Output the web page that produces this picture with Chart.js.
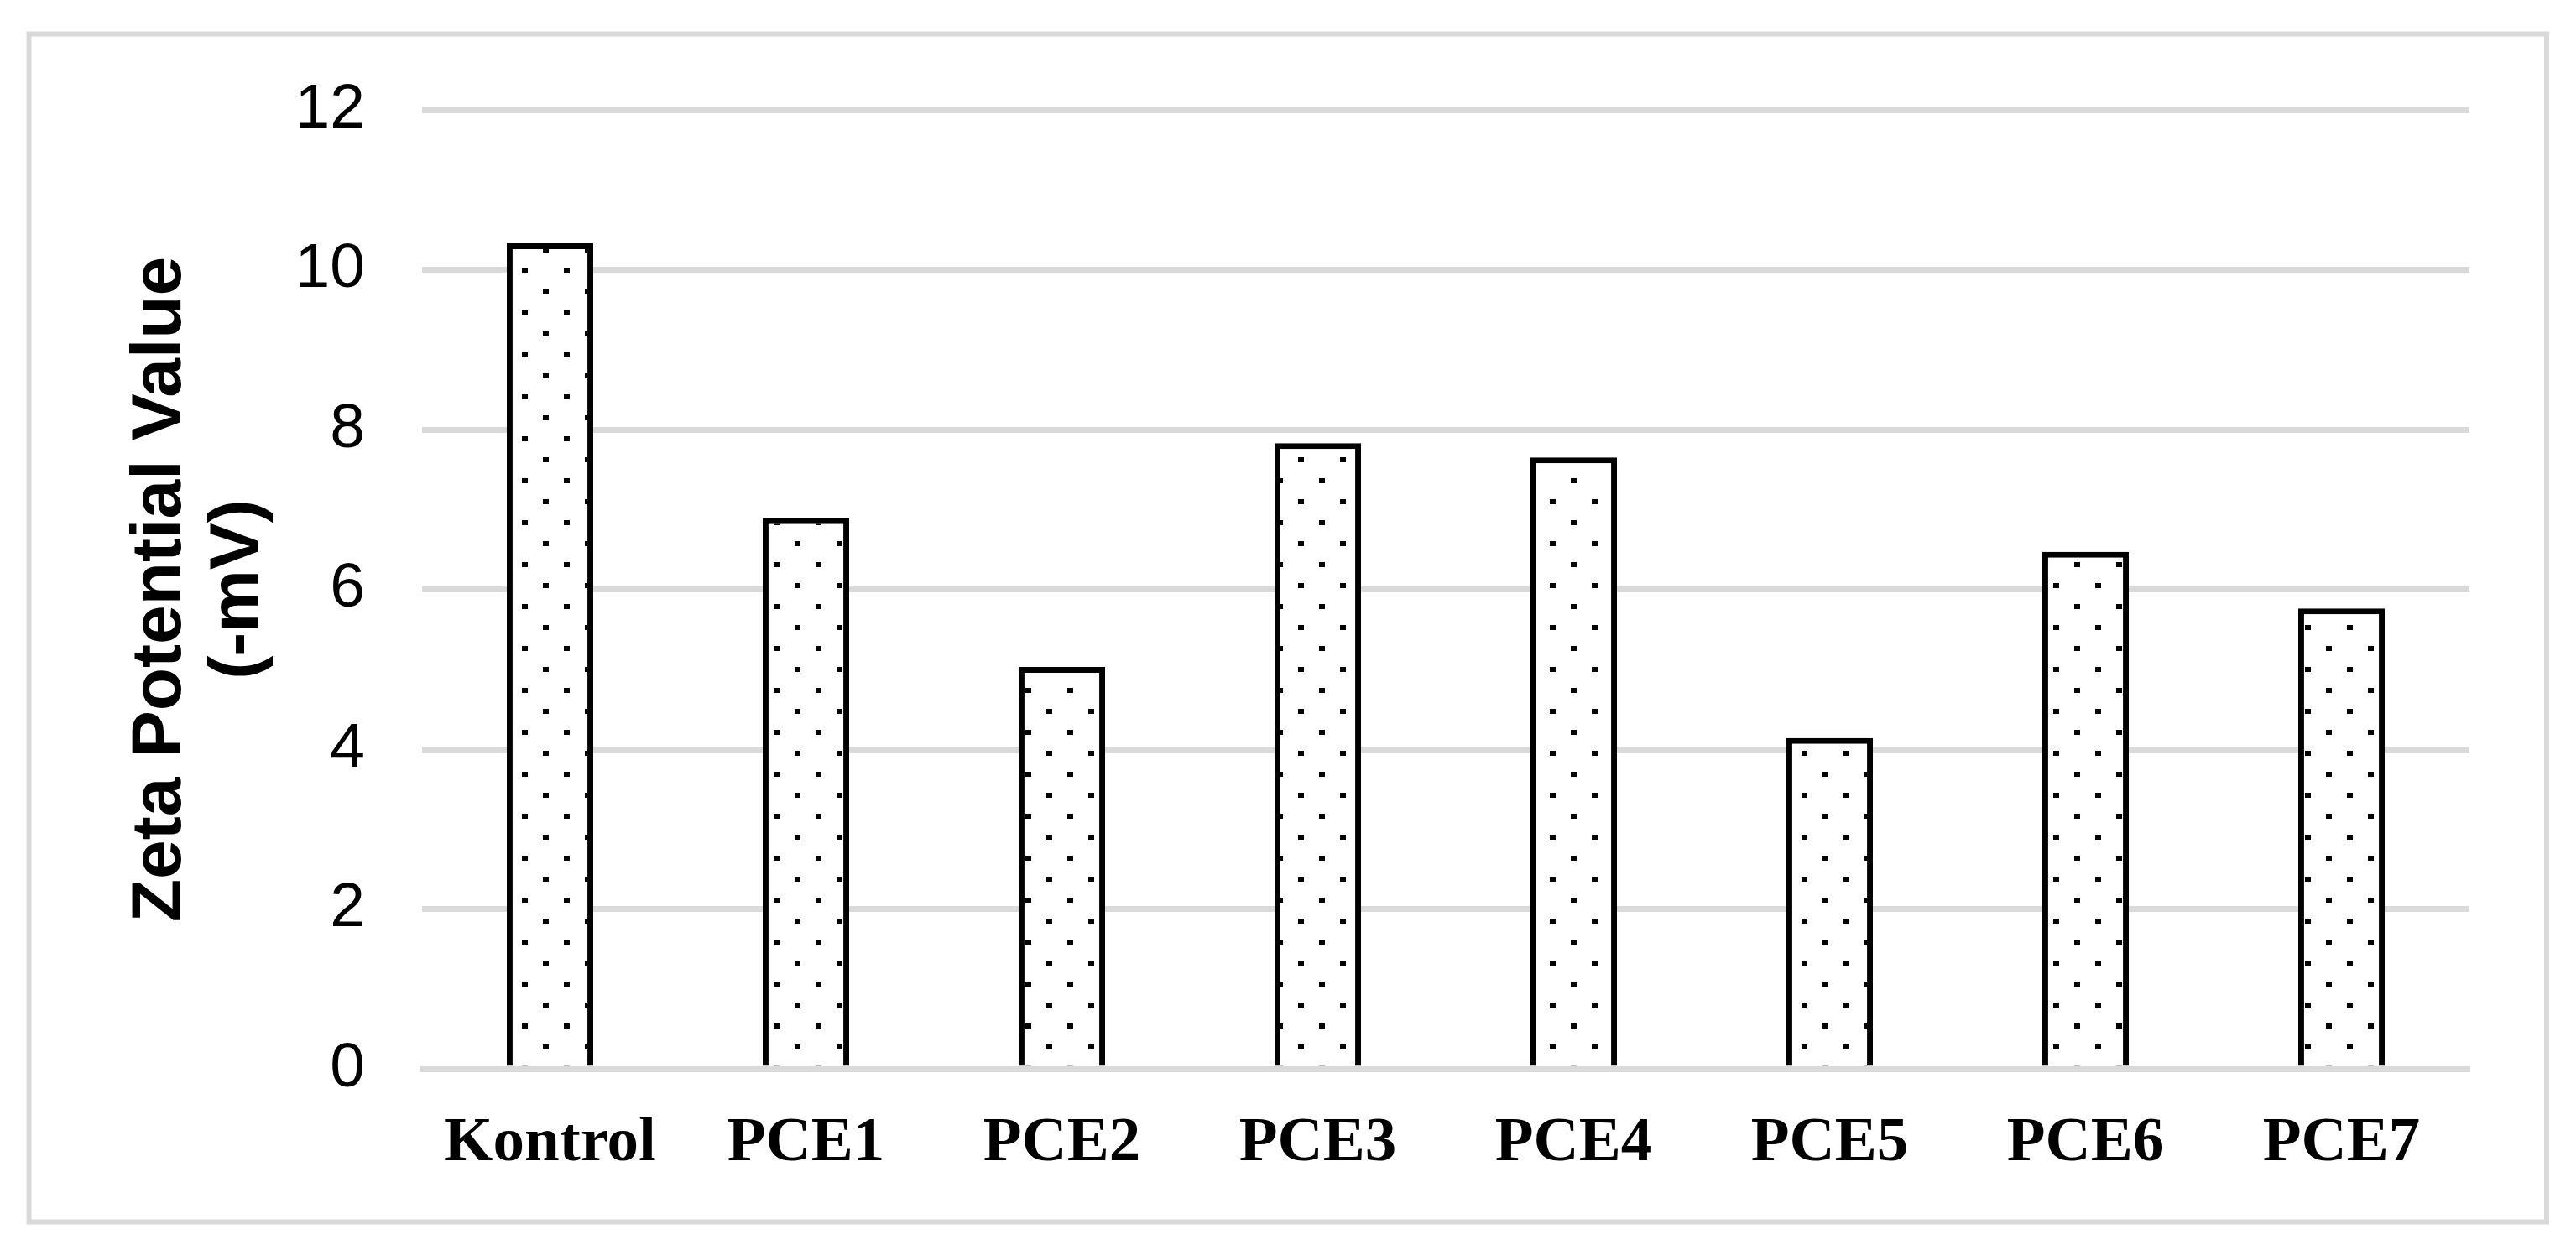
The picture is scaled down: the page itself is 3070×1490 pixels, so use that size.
<!DOCTYPE html>
<html>
<head>
<meta charset="utf-8">
<script src="https://cdn.jsdelivr.net/npm/chart.js@4.4.1/dist/chart.umd.min.js"></script>
<style>
  html, body { margin: 0; padding: 0; background: #ffffff; }
  #c { display: block; }
</style>
</head>
<body>
<canvas id="c" width="3070" height="1490"></canvas>
<script>
// ---- data ----
const categories = ['Kontrol', 'PCE1', 'PCE2', 'PCE3', 'PCE4', 'PCE5', 'PCE6', 'PCE7'];
const zetaValues = [10.33, 6.89, 5.03, 7.83, 7.65, 4.14, 6.47, 5.76];
const yTickValues = [0, 2, 4, 6, 8, 10, 12];
const yTitleLines = ['Zeta Potential Value', '(-mV)'];

// dotted fill pattern (anchored to canvas origin)
function makeDotPattern() {
  const t = document.createElement('canvas');
  t.width = 50; t.height = 50;
  const g = t.getContext('2d');
  g.fillStyle = '#ffffff';
  g.fillRect(0, 0, 50, 50);
  g.fillStyle = '#000000';
  g.fillRect(22, 20, 7, 6);
  for (const dx of [0, -50]) for (const dy of [0, -50]) g.fillRect(47 + dx, 45 + dy, 7, 6);
  return g.createPattern(t, 'repeat');
}

const framePlugin = {
  id: 'frame',
  beforeDraw(chart) {
    const ctx = chart.ctx;
    ctx.save();
    ctx.fillStyle = '#ffffff';
    ctx.fillRect(0, 0, chart.width, chart.height);
    ctx.strokeStyle = '#d9d9d9';
    ctx.lineWidth = 6;
    ctx.strokeRect(34.5, 40.5, 3000.5, 1416);
    ctx.restore();
  }
};

const ctx = document.getElementById('c').getContext('2d');
new Chart(ctx, {
  type: 'bar',
  data: {
    labels: categories,
    datasets: [{
      data: zetaValues,
      backgroundColor: makeDotPattern(),
      borderColor: '#000000',
      borderWidth: 7,
      borderSkipped: 'start',
      barPercentage: 0.338,
      categoryPercentage: 1.0
    }]
  },
  options: {
    responsive: false,
    devicePixelRatio: 1,
    animation: false,
    layout: { padding: { left: 145, top: 131, right: 127, bottom: 44 } },
    plugins: { legend: { display: false }, tooltip: { enabled: false } },
    scales: {
      x: {
        z: 1,
        grid: { display: false },
        border: { display: true, color: '#d9d9d9', width: 7 },
        ticks: {
          color: '#000000',
          padding: 37,
          font: { family: '"Liberation Serif", "Times New Roman", serif', size: 75, weight: 'bold', lineHeight: 1.2 },
          maxRotation: 0, autoSkip: false
        }
      },
      y: {
        min: 0, max: 12,
        afterBuildTicks(scale) { scale.ticks = yTickValues.map(v => ({ value: v })); },
        afterFit(scale) { scale.width = 503 - 145; },
        grid: { color: '#d9d9d9', lineWidth: 7, drawTicks: false },
        border: { display: false },
        ticks: {
          color: '#000000',
          padding: 68,
          font: { family: '"Liberation Sans", Arial, sans-serif', size: 75 }
        },
        title: {
          display: true,
          text: yTitleLines,
          color: '#000000',
          padding: 0,
          font: { family: '"Liberation Sans", Arial, sans-serif', size: 84, weight: 'bold', lineHeight: 93 / 84 }
        }
      }
    }
  },
  plugins: [framePlugin]
});
</script>
</body>
</html>
